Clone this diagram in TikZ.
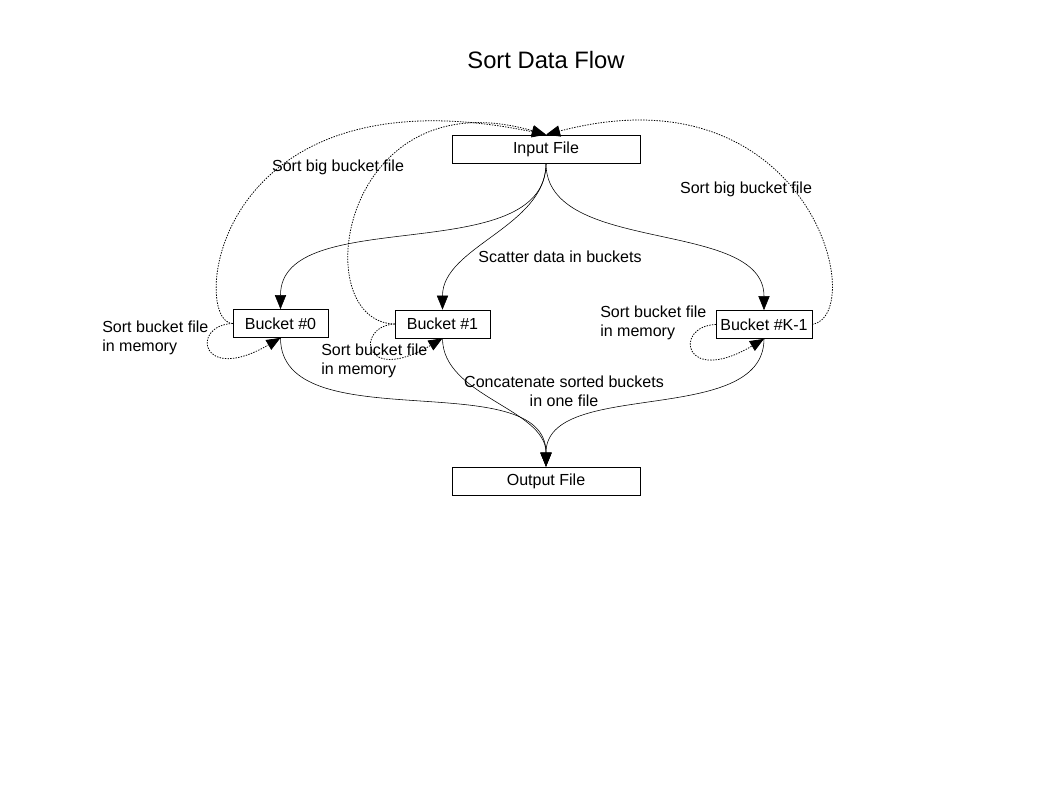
\documentclass[tikz,border=0pt]{standalone}
\usepackage{fontspec}
\setmainfont{Liberation Sans}
\usetikzlibrary{arrows.meta}
\tikzset{
    box/.style={draw, thin, minimum height=20pt, inner sep=0pt},
    lbl/.style={font=\fontsize{11.4}{13.4}\selectfont, inner sep=0pt},
    flow/.style={-{Triangle[length=10pt,width=8pt]}, thin},
    sortflow/.style={flow, line width=0.55pt, dash pattern=on 1pt off 0.9pt},
}
\begin{document}
\begin{tikzpicture}[x=0.025cm, y=-0.025cm, font=\fontsize{11.4}{13.4}\selectfont]
    \useasboundingbox (0,0) rectangle (1058,794);

    % title
    \node[font=\fontsize{16.9}{20}\selectfont] (title) at (546,60) {Sort Data Flow};

    % files and buckets
    \node[box, minimum width=134pt] (input) at (546,149) {Input File};
    \node[box, minimum width=67.5pt] (b0) at (280.5,323.5) {Bucket \#0};
    \node[box, minimum width=67.5pt] (b1) at (442.5,324) {Bucket \#1};
    \node[box, minimum width=68pt] (bk) at (764,324.5) {Bucket \#K-1};
    \node[box, minimum width=134pt] (output) at (546,481) {Output File};

    % scatter
    \draw[flow] (input.south) to[out=-90, in=90, looseness=0.9] (b0.north);
    \draw[flow] (input.south) to[out=-90, in=90, looseness=0.9] (b1.north);
    \draw[flow] (input.south) to[out=-90, in=90, looseness=0.9] (bk.north);

    % concatenate
    \draw[flow] (b0.south) to[out=-90, in=90, looseness=0.9] (output.north);
    \draw[flow] (b1.south) to[out=-90, in=90, looseness=0.9] (output.north);
    \draw[flow] (bk.south) to[out=-90, in=90, looseness=0.9] (output.north);

    % sort big bucket files
    \draw[sortflow] (b0.west) .. controls (190,323) and (210,65) .. (input.north);
    \draw[sortflow] (b1.west) .. controls (305,322) and (340,75) .. (input.north);
    \draw[sortflow] (bk.east) .. controls (870,315) and (810,65) .. (input.north);

    % sort in memory
    \draw[sortflow] (b0.west) .. controls (190,325) and (200,385) .. (b0.south);
    \draw[sortflow] (b1.west) .. controls (355,326) and (362,386) .. (b1.south);
    \draw[sortflow] (bk.west) .. controls (673,326) and (683,387) .. (bk.south);

    % labels
    \node[lbl] (lbigA) at (338,167) {Sort big bucket file};
    \node[lbl] (lbigB) at (746,189) {Sort big bucket file};
    \node[lbl] (lscatter) at (560,257) {Scatter data in buckets};
    \node[lbl, anchor=west, align=left] (lmemA) at (102,338) {Sort bucket file\\in memory};
    \node[lbl, anchor=west, align=left] (lmemB) at (321,361) {Sort bucket file\\in memory};
    \node[lbl, anchor=west, align=left] (lmemK) at (600,323) {Sort bucket file\\in memory};
    \node[lbl, align=center] (lconcat) at (564,391) {Concatenate sorted buckets\\in one file};
\end{tikzpicture}
\end{document}
